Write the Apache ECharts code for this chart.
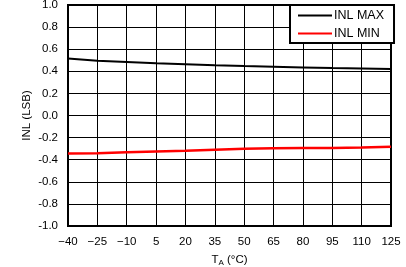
<!DOCTYPE html>
<html><head><meta charset="utf-8">
<script src="https://cdn.jsdelivr.net/npm/echarts@6/dist/echarts.min.js"></script>
<style>html,body{margin:0;padding:0;background:#fff}#c{width:406px;height:267px}</style>
</head><body><div id="c"></div>
<script>
const temps = ['-40','-25','-10','5','20','35','50','65','80','95','110','125'];
const inlMax = [0.515,0.495,0.484,0.473,0.464,0.455,0.447,0.441,0.435,0.429,0.425,0.421];
const inlMin = [-0.345,-0.341,-0.332,-0.325,-0.318,-0.309,-0.300,-0.297,-0.295,-0.293,-0.289,-0.282];
const yTicks = {min:-1, max:1, step:0.2};
const F = 'Liberation Sans, Arial, Helvetica, sans-serif';
const chart = echarts.init(document.getElementById('c'), null, {renderer:'canvas'});
chart.setOption({
  animation:false,
  grid:{left:68,top:5,right:15,bottom:41,outerBoundsMode:'none',containLabel:false,show:true,borderColor:'#000',borderWidth:2,backgroundColor:'transparent'},
  legend:{orient:'vertical',left:290,top:5,itemWidth:34,itemHeight:2,itemGap:5,icon:'rect',
    padding:[4,10,3,8],borderColor:'#000',borderWidth:2,backgroundColor:'#fff',
    textStyle:{fontFamily:F,fontSize:12.5,color:'#000',padding:[0,0,0,-3]},
    data:['INL MAX','INL MIN']},
  xAxis:{type:'category',data:temps,boundaryGap:false,
    axisLine:{show:false},axisTick:{show:false},
    axisLabel:{color:'#000',fontFamily:F,fontSize:11.5,margin:10,
      formatter:v=>v.replace('-','\u2212')},
    splitLine:{show:true,lineStyle:{color:'#000',width:1}},
    name:'{t|T}{s|A}{t| (\u00b0C)}',nameLocation:'middle',nameGap:27,nameMoveOverlap:false,
    nameTextStyle:{rich:{t:{fontFamily:F,fontSize:11.5,color:'#000'},s:{fontFamily:F,fontSize:8,color:'#000',verticalAlign:'bottom',padding:[6,0,0,0]}}}},
  yAxis:{type:'value',min:yTicks.min,max:yTicks.max,interval:yTicks.step,
    axisLine:{show:false},axisTick:{show:false},
    axisLabel:{color:'#000',fontFamily:F,fontSize:11.5,margin:10,formatter:v=>v.toFixed(1)},
    splitLine:{show:true,lineStyle:{color:'#000',width:1}},
    name:'INL (LSB)',nameLocation:'middle',nameGap:35,nameMoveOverlap:false,
    nameTextStyle:{fontFamily:F,fontSize:11.5,color:'#000'}},
  series:[
    {name:'INL MAX',type:'line',data:inlMax,symbol:'none',lineStyle:{color:'#000',width:2},itemStyle:{color:'#000'}},
    {name:'INL MIN',type:'line',data:inlMin,symbol:'none',lineStyle:{color:'#ff0000',width:2.5},itemStyle:{color:'#ff0000'}}
  ]
});
</script></body></html>
